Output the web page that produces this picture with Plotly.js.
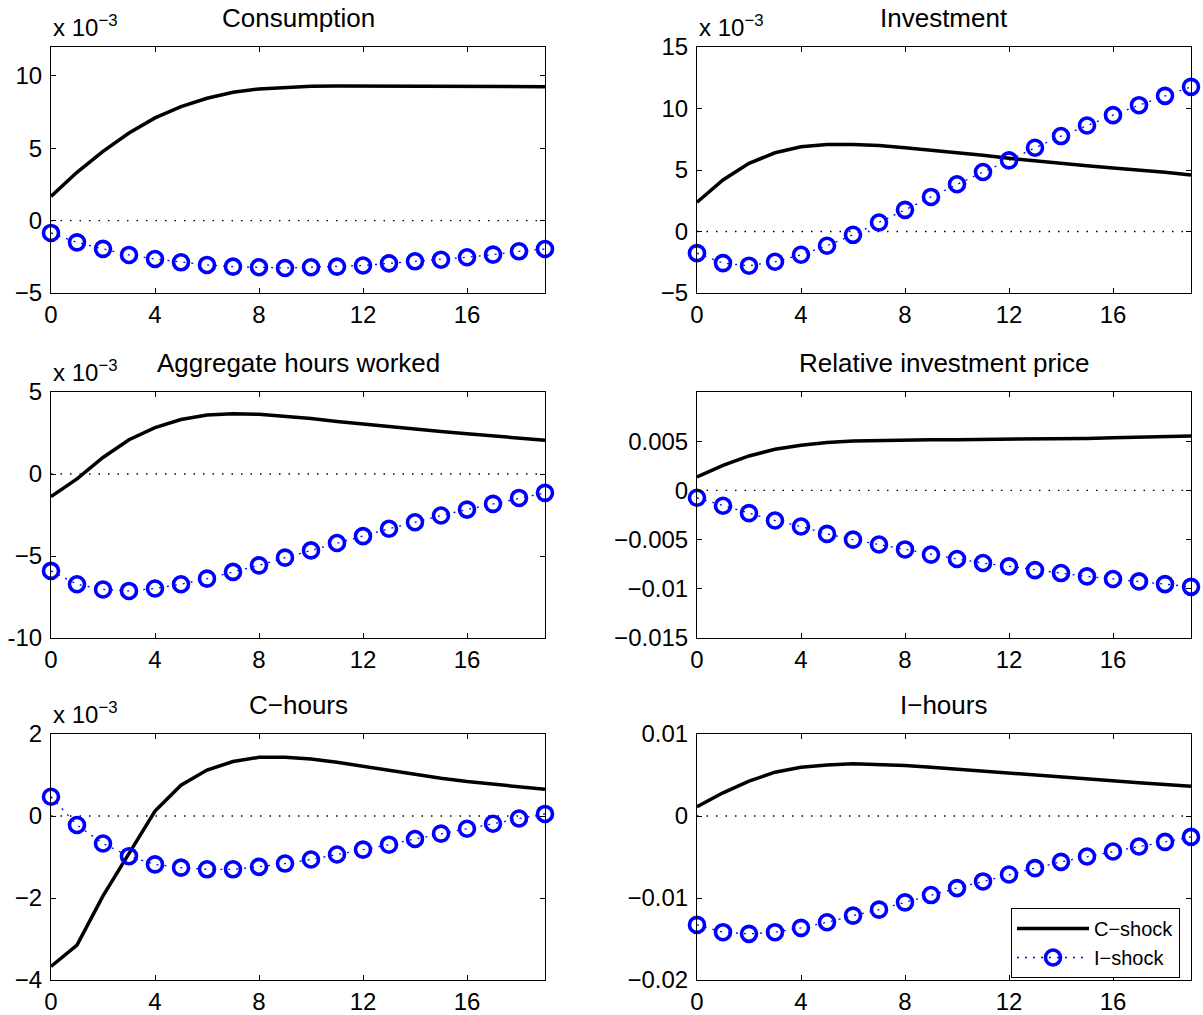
<!DOCTYPE html>
<html>
<head>
<meta charset="utf-8">
<script src="https://cdn.plot.ly/plotly-3.0.1.min.js"></script>
<style>html,body{margin:0;padding:0;background:#fff;}#chart{width:1203px;height:1015px;}</style>
</head>
<body>
<div id="chart"></div>
<script>
// ---- data ----
const periods = [0,1,2,3,4,5,6,7,8,9,10,11,12,13,14,15,16,17,18,19];
const seriesNames = ["C\u2212shock", "I\u2212shock"];
const panelTitles = ["Consumption", "Investment", "Aggregate hours worked", "Relative investment price", "C\u2212hours", "I\u2212hours"];

// Consumption (x 10^-3)
const consC = [1.68, 3.34, 4.79, 6.06, 7.10, 7.88, 8.46, 8.87, 9.10, 9.22, 9.29, 9.30, 9.30, 9.30, 9.29, 9.28, 9.28, 9.27, 9.27, 9.26];
const consI = [-0.85, -1.50, -1.95, -2.37, -2.65, -2.88, -3.06, -3.18, -3.22, -3.27, -3.22, -3.18, -3.10, -2.95, -2.81, -2.70, -2.53, -2.35, -2.12, -1.96];
// Investment (x 10^-3)
const invC = [2.38, 4.19, 5.54, 6.40, 6.89, 7.08, 7.08, 7.00, 6.81, 6.62, 6.40, 6.19, 5.95, 5.73, 5.54, 5.35, 5.16, 5.00, 4.81, 4.59];
const invI = [-1.76, -2.57, -2.78, -2.46, -1.89, -1.16, -0.27, 0.73, 1.76, 2.81, 3.84, 4.84, 5.78, 6.81, 7.76, 8.62, 9.46, 10.27, 11.03, 11.76];
// Aggregate hours worked (x 10^-3)
const hoursC = [-1.38, -0.30, 1.01, 2.09, 2.83, 3.32, 3.60, 3.68, 3.64, 3.52, 3.38, 3.20, 3.04, 2.87, 2.73, 2.59, 2.45, 2.33, 2.21, 2.06];
const hoursI = [-5.91, -6.72, -7.04, -7.13, -6.98, -6.72, -6.38, -5.97, -5.57, -5.10, -4.66, -4.21, -3.79, -3.34, -2.94, -2.53, -2.17, -1.82, -1.46, -1.15];
// Relative investment price
const priceC = [0.00136, 0.00255, 0.00350, 0.00418, 0.00459, 0.00486, 0.00503, 0.00510, 0.00514, 0.00515, 0.00516, 0.00517, 0.00520, 0.00522, 0.00525, 0.00528, 0.00535, 0.00540, 0.00547, 0.00554];
const priceI = [-0.00075, -0.00156, -0.00231, -0.00306, -0.00367, -0.00442, -0.00500, -0.00550, -0.00600, -0.00653, -0.00697, -0.00738, -0.00772, -0.00810, -0.00840, -0.00874, -0.00900, -0.00925, -0.00952, -0.00980];
// C-hours (x 10^-3)
const chC = [-3.67, -3.15, -1.95, -0.90, 0.12, 0.75, 1.12, 1.33, 1.43, 1.43, 1.39, 1.31, 1.21, 1.11, 1.01, 0.92, 0.84, 0.77, 0.71, 0.65];
const chI = [0.47, -0.22, -0.67, -0.98, -1.18, -1.26, -1.30, -1.30, -1.24, -1.16, -1.06, -0.94, -0.82, -0.70, -0.56, -0.43, -0.31, -0.19, -0.06, 0.05];
// I-hours
const ihC = [0.00113, 0.00283, 0.00425, 0.00534, 0.00595, 0.00623, 0.00636, 0.00628, 0.00615, 0.00595, 0.00571, 0.00547, 0.00518, 0.00494, 0.00470, 0.00445, 0.00425, 0.00405, 0.00385, 0.00364];
const ihI = [-0.01328, -0.01417, -0.01437, -0.01417, -0.01364, -0.01296, -0.01215, -0.01142, -0.01053, -0.00964, -0.00879, -0.00798, -0.00713, -0.00636, -0.00559, -0.00494, -0.00433, -0.00372, -0.00316, -0.00255];

// zero reference line
const baselineX = [0, 19];
const baselineY = [0, 0];

// tick labels
const xTickVals = [0, 4, 8, 12, 16];
const yTicks = [
  {vals: [-5, 0, 5, 10], text: ["\u22125", "0", "5", "10"], range: [-5, 12]},
  {vals: [-5, 0, 5, 10, 15], text: ["\u22125", "0", "5", "10", "15"], range: [-5, 15]},
  {vals: [-10, -5, 0, 5], text: ["-10", "\u22125", "0", "5"], range: [-10, 5]},
  {vals: [-0.015, -0.01, -0.005, 0, 0.005], text: ["\u22120.015", "\u22120.01", "\u22120.005", "0", "0.005"], range: [-0.015, 0.01]},
  {vals: [-4, -2, 0, 2], text: ["\u22124", "\u22122", "0", "2"], range: [-4, 2]},
  {vals: [-0.02, -0.01, 0, 0.01], text: ["\u22120.02", "\u22120.01", "0", "0.01"], range: [-0.02, 0.01]}
];
const scaled = [true, true, true, false, true, false];
const cSeries = [consC, invC, hoursC, priceC, chC, ihC];
const iSeries = [consI, invI, hoursI, priceI, chI, ihI];

// ---- layout geometry ----
const W = 1203, H = 1015;
const colPx = [[51, 545], [697, 1191]];
const rowPx = [[47, 293], [392, 638], [734, 980]];
const FONT = "Liberation Sans, Arial, Helvetica, sans-serif";
const TICK = 24;

const traces = [];
const layout = {
  width: W, height: H, autosize: false,
  margin: {l: 0, r: 0, t: 0, b: 0, pad: 0},
  paper_bgcolor: "#fff", plot_bgcolor: "#fff",
  font: {family: FONT, size: TICK, color: "#000"},
  showlegend: true,
  legend: {
    x: 1180 / W, xanchor: "right", y: 1 - 908 / H, yanchor: "top",
    bgcolor: "#fff", bordercolor: "#000", borderwidth: 1,
    font: {family: FONT, size: 20, color: "#000"},
    itemwidth: 72, tracegroupgap: 0
  },
  annotations: []
};

for (let k = 0; k < 6; k++) {
  const r = Math.floor(k / 2), c = k % 2;
  const n = k + 1;
  const xa = "xaxis" + (n === 1 ? "" : n), ya = "yaxis" + (n === 1 ? "" : n);
  const xr = "x" + (n === 1 ? "" : n), yr = "y" + (n === 1 ? "" : n);
  const xd = [colPx[c][0] / W, colPx[c][1] / W];
  const yd = [1 - rowPx[r][1] / H, 1 - rowPx[r][0] / H];
  layout[xa] = {
    domain: xd, anchor: yr, range: [0, 19],
    tickvals: xTickVals, ticks: "inside", ticklen: 5, tickwidth: 1, tickcolor: "#000",
    showline: true, linecolor: "#000", linewidth: 1, mirror: "ticks",
    showgrid: false, zeroline: false, fixedrange: true, ticklabelstandoff: 0,
    tickfont: {family: FONT, size: TICK, color: "#000"}
  };
  layout[ya] = {
    domain: yd, anchor: xr, range: yTicks[k].range,
    tickvals: yTicks[k].vals, ticktext: yTicks[k].text,
    ticks: "inside", ticklen: 5, tickwidth: 1, tickcolor: "#000",
    showline: true, linecolor: "#000", linewidth: 1, mirror: "ticks",
    showgrid: false, zeroline: false, fixedrange: true, ticklabelstandoff: 3,
    tickfont: {family: FONT, size: TICK, color: "#000"}
  };
  const showLeg = (k === 5);
  traces.push({
    x: baselineX, y: baselineY, xaxis: xr, yaxis: yr, mode: "lines",
    line: {color: "#000", width: 1.4, dash: "1.5px,8px"}, showlegend: false, hoverinfo: "skip"
  });
  traces.push({
    x: periods, y: cSeries[k], xaxis: xr, yaxis: yr, mode: "lines", name: seriesNames[0],
    line: {color: "#000", width: 3.5}, showlegend: showLeg, cliponaxis: false
  });
  traces.push({
    x: periods, y: iSeries[k], xaxis: xr, yaxis: yr, mode: "lines+markers", name: seriesNames[1],
    line: {color: "#0000ff", width: 1.3, dash: "2px,6px"},
    marker: {symbol: "circle-open", size: 15, color: "#0000ff", line: {color: "#0000ff", width: 3.6}},
    showlegend: showLeg, cliponaxis: false
  });
  // title
  layout.annotations.push({
    text: panelTitles[k], xref: "paper", yref: "paper",
    x: (xd[0] + xd[1]) / 2, y: 1 - (rowPx[r][0] - 29) / H,
    xanchor: "center", yanchor: "middle", showarrow: false,
    font: {family: FONT, size: 26, color: "#000"}
  });
  if (scaled[k]) {
    layout.annotations.push({
      text: "x 10<sup>\u22123</sup>", xref: "paper", yref: "paper",
      x: xd[0], y: 1 - (rowPx[r][0] - 4) / H,
      xanchor: "left", yanchor: "bottom", showarrow: false,
      font: {family: FONT, size: TICK, color: "#000"}
    });
  }
}

Plotly.newPlot("chart", traces, layout, {staticPlot: true, displayModeBar: false});
</script>
</body>
</html>
